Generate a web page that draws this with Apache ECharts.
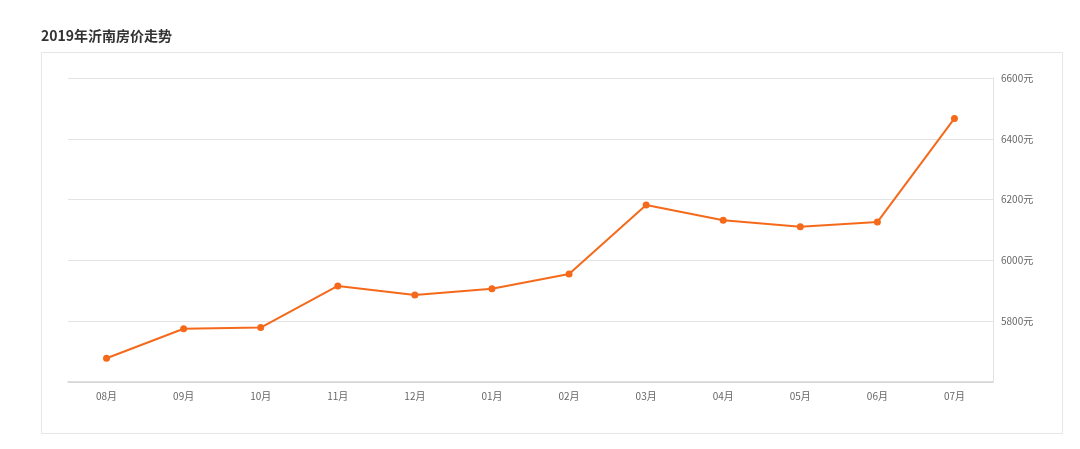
<!DOCTYPE html>
<html>
<head>
<meta charset="utf-8">
<script src="https://cdn.jsdelivr.net/npm/echarts@6/dist/echarts.min.js"></script>
<style>
html,body{margin:0;padding:0;background:#fff;}
#c{width:1080px;height:449px;}
</style>
</head>
<body>
<div id="c"></div>
<script>
var months = ['08月','09月','10月','11月','12月','01月','02月','03月','04月','05月','06月','07月'];
var prices = [5678, 5775, 5779, 5916, 5886, 5907, 5955, 6182, 6132, 6111, 6126, 6467];
var yMin = 5600, yMax = 6600, yStep = 200;
var titleText = '2019年沂南房价走势';
var unit = '元';

var chart = echarts.init(document.getElementById('c'));
chart.setOption({
  animation: false,
  backgroundColor: '#fff',
  title: {
    text: titleText,
    left: 36, top: 24,
    textStyle: {fontFamily: '"Noto Sans CJK SC", sans-serif', fontSize: 14, fontWeight: 'bold', color: '#333'}
  },
  graphic: [{
    type: 'rect', shape: {x: 41.5, y: 52.5, width: 1021, height: 381},
    style: {fill: 'none', stroke: '#e6e6e6', lineWidth: 1}, silent: true, z: -1
  }],
  grid: {left: 68, right: 87, top: 78, bottom: 67},
  xAxis: {
    type: 'category',
    data: months,
    boundaryGap: true,
    axisLine: {lineStyle: {color: '#d4d4d4', width: 1.5}},
    axisTick: {alignWithLabel: true, length: 3, lineStyle: {color: '#eeeeee'}},
    axisLabel: {color: '#666', fontSize: 10, margin: 9, fontFamily: '"Noto Sans CJK SC", sans-serif'}
  },
  yAxis: {
    type: 'value',
    position: 'right',
    min: yMin, max: yMax, interval: yStep,
    axisLine: {show: true, lineStyle: {color: '#e3e3e3'}},
    axisTick: {show: false},
    splitLine: {lineStyle: {color: '#e3e3e3'}},
    axisLabel: {
      showMinLabel: false,
      color: '#666', fontSize: 10, margin: 8,
      fontFamily: '"Noto Sans CJK SC", sans-serif',
      formatter: function (v) { return v + unit; }
    }
  },
  series: [{
    type: 'line',
    data: prices,
    symbol: 'circle',
    symbolSize: 7,
    lineStyle: {color: '#f56a1a', width: 2},
    itemStyle: {color: '#f56a1a'}
  }]
});
</script>
</body>
</html>
